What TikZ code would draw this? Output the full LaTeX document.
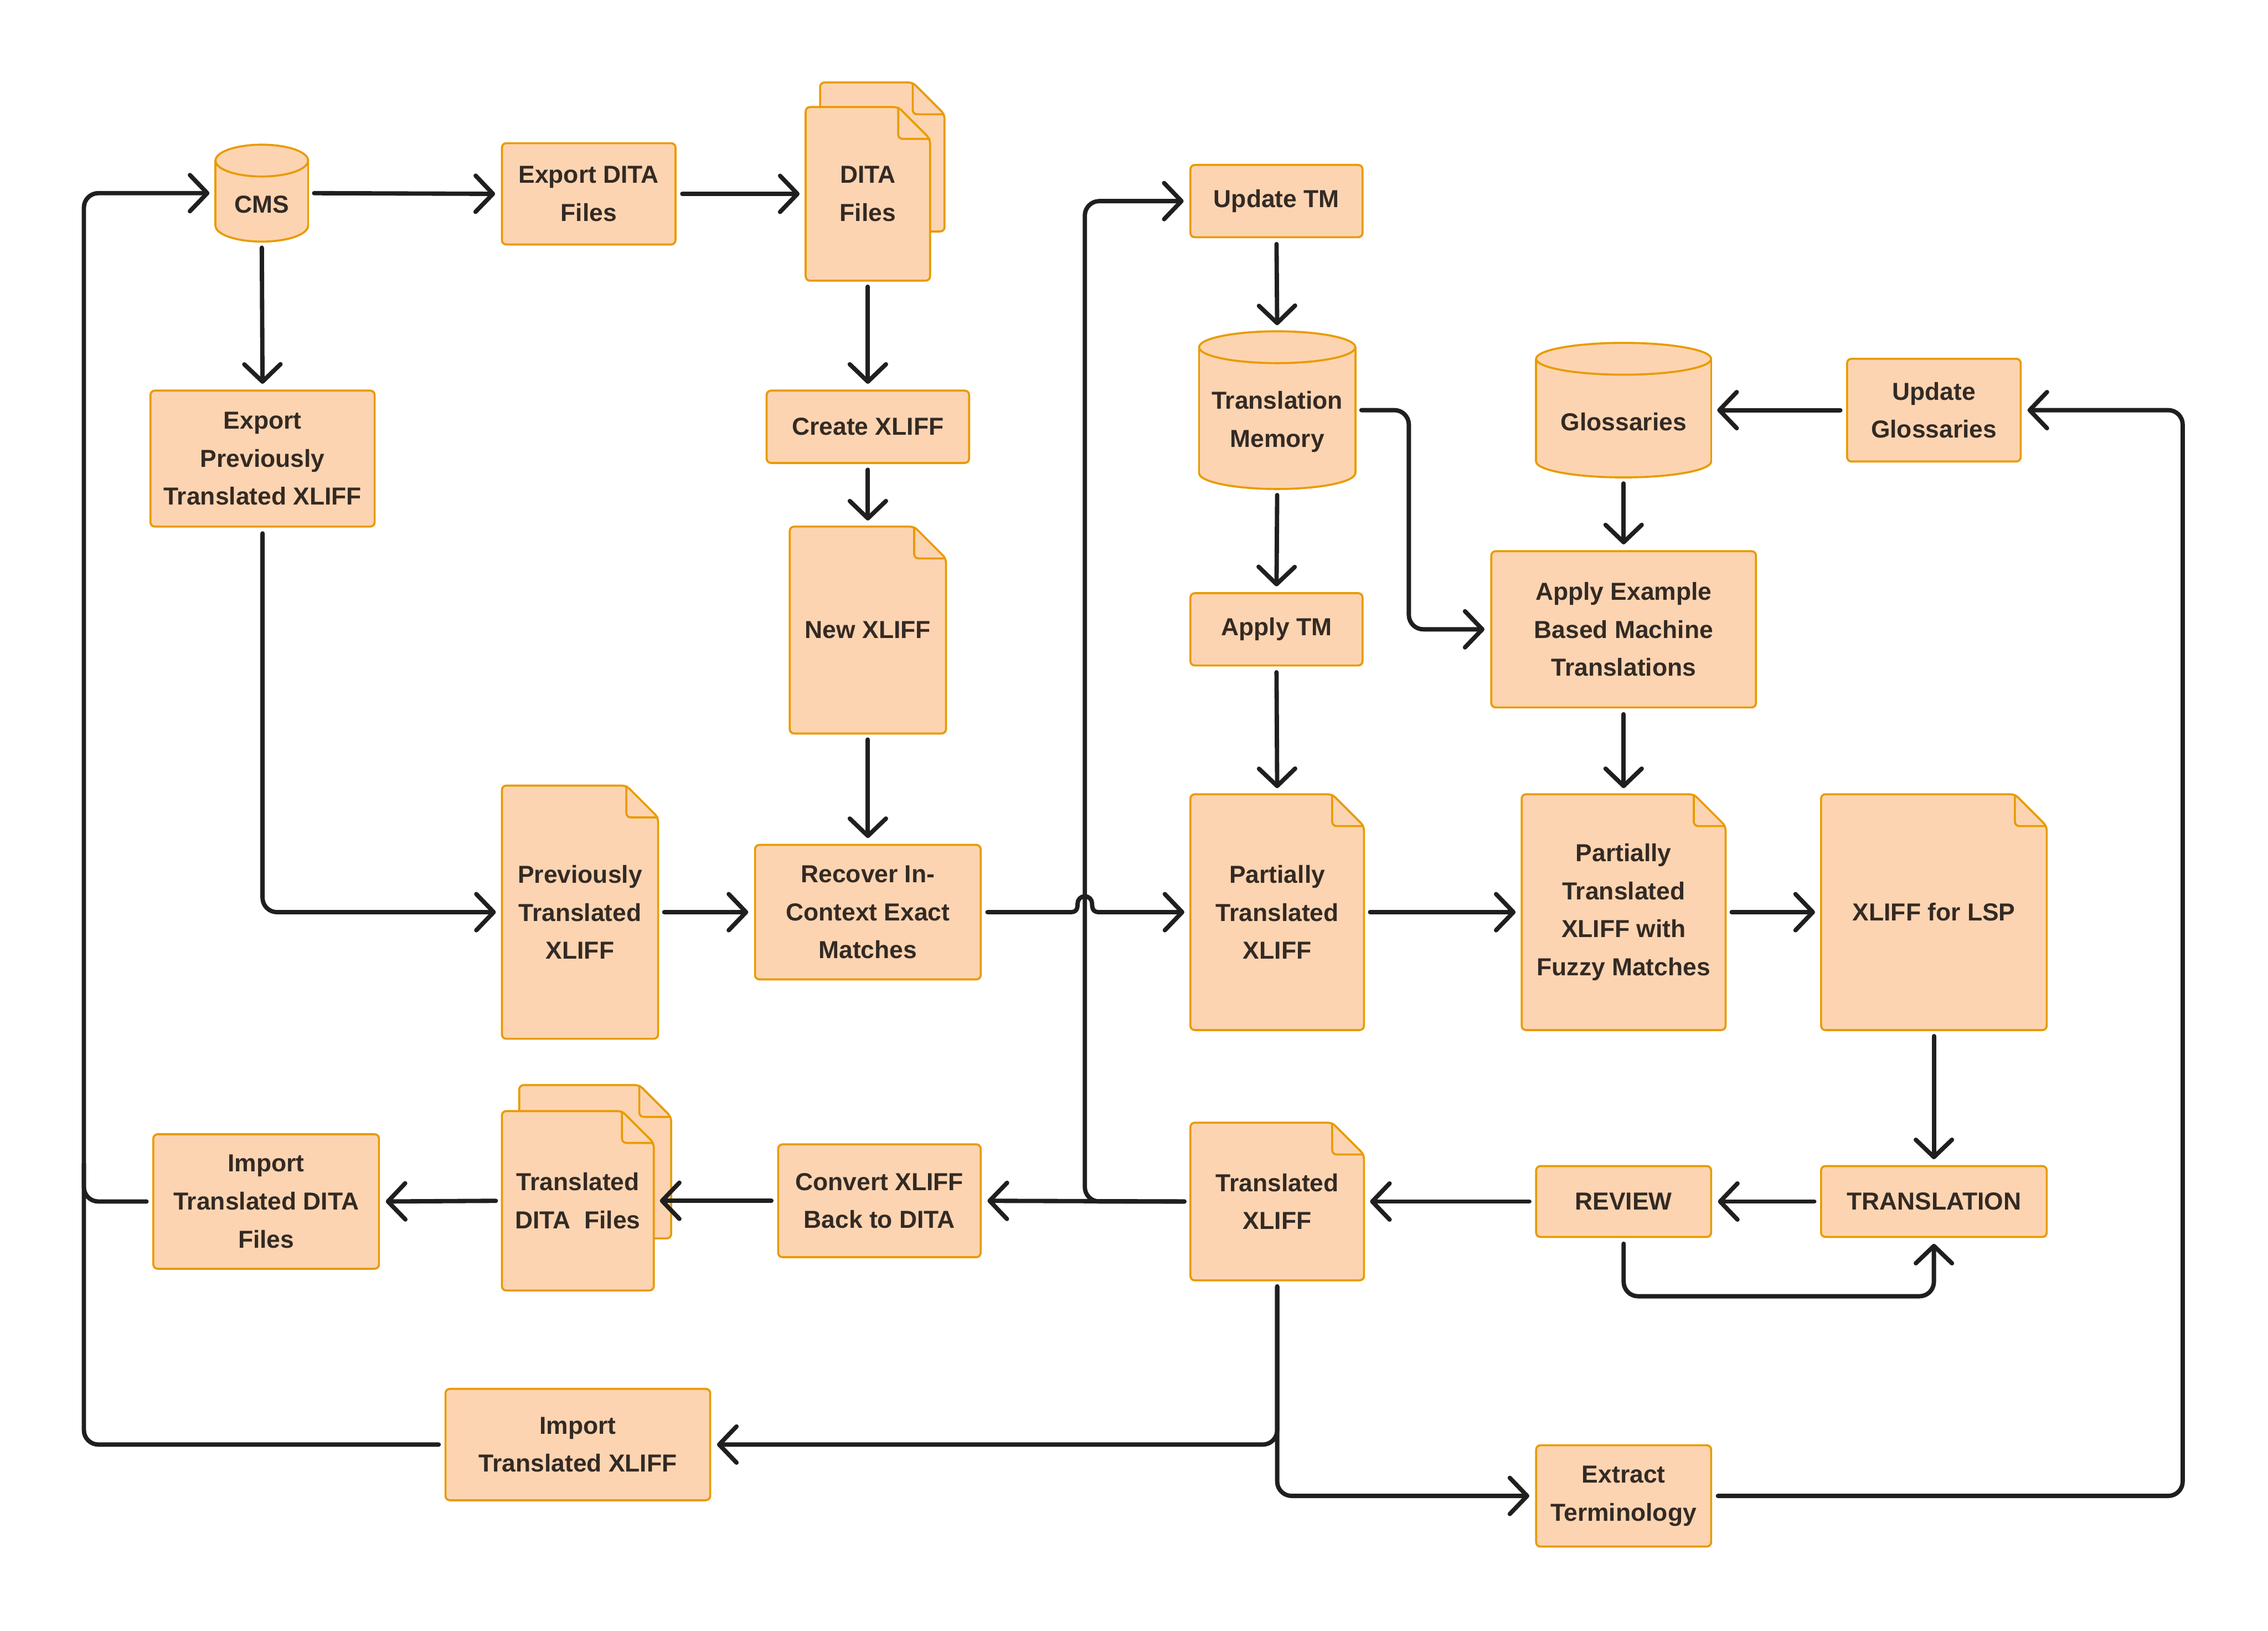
\documentclass[tikz,border=0pt]{standalone}
\usepackage{fontspec}
\setmainfont{Liberation Sans}
\usetikzlibrary{arrows.meta}
\definecolor{peach}{HTML}{FDD4B1}
\definecolor{orng}{HTML}{E89B00}
\definecolor{ink}{HTML}{332A24}
\definecolor{wirecol}{HTML}{1F1F1F}

% document outline: x1 y1 x2 y2
\newcommand\docshape[4]{%
  \draw[docst] (#1,#2) -- (#3-22,#2) -- (#3,#2+22) -- (#3,#4) -- (#1,#4) -- cycle;
  \draw[docst,fill=none] (#3-22,#2) -- (#3-22,#2+22) -- (#3,#2+22);
}
% document node: name x1 y1 x2 y2 text
\newcommand\docnode[6]{%
  \docshape{#2}{#3}{#4}{#5}
  \node[hold, minimum width={(#4-#2)*1pt}, minimum height={(#5-#3)*1pt}] (#1) at ({(#2+#4)/2},{(#3+#5)/2}) {#6};
}
% cylinder node: name x1 y1 x2 y2 text
\newcommand\cylnode[6]{%
  \draw[cylst] ({(#2+#4)/2},#5-11) ellipse [x radius={(#4-#2)/2}, y radius=11];
  \fill[peach] (#2,#3+11) rectangle (#4,#5-11);
  \draw[cylst] (#2,#3+11) -- (#2,#5-11) (#4,#3+11) -- (#4,#5-11);
  \draw[cylst] ({(#2+#4)/2},#3+11) ellipse [x radius={(#4-#2)/2}, y radius=11];
  \node[hold, minimum width={(#4-#2)*1pt}, minimum height={(#5-#3)*1pt},
        label={[yshift=-8pt]center:#6}] (#1) at ({(#2+#4)/2},{(#3+#5)/2}) {};
}

\begin{document}
\begin{tikzpicture}[x=1pt,y=-1pt,
  every node/.style={font=\fontsize{17}{26.3}\selectfont\bfseries, text=ink, align=center, inner sep=0pt},
  box/.style={draw=orng, fill=peach, line width=1.4pt, rounded corners=3pt},
  hold/.style={draw=none, fill=none},
  docst/.style={draw=orng, fill=peach, line width=1.4pt, rounded corners=3pt, line join=round},
  cylst/.style={draw=orng, fill=peach, line width=1.4pt},
  conn/.style={draw=wirecol, line width=3pt, line cap=round, line join=round, rounded corners=10pt,
    shorten >=4pt, shorten <=4pt, -{Straight Barb[length=12pt,width=25pt,round]}},
  conline/.style={conn, -}
]
\useasboundingbox (0,0) rectangle (1568,1127);

% ---------- nodes ----------
\cylnode{cms}{149}{100}{213}{167}{CMS}
\node[box, minimum width=120pt, minimum height=70pt] (expdita) at (407,134) {Export DITA\\Files};
\docshape{567}{57}{653}{160}
\docnode{ditaf}{557}{74}{643}{194}{DITA\\Files}
\node[box, minimum width=155pt, minimum height=94pt] (expprev) at (181.5,317) {Export\\Previously\\Translated XLIFF};
\node[box, minimum width=140pt, minimum height=50pt] (create) at (600,295) {Create XLIFF};
\docnode{newx}{546}{364}{654}{507}{New XLIFF}
\docnode{prevtx}{347}{543}{455}{718}{Previously\\Translated\\XLIFF}
\node[box, minimum width=156pt, minimum height=93pt] (recover) at (600,630.5) {Recover In-\\Context Exact\\Matches};
\node[box, minimum width=119pt, minimum height=50pt] (updtm) at (882.5,139) {Update TM};
\cylnode{tm}{829}{229}{937}{338}{Translation\\Memory}
\node[box, minimum width=119pt, minimum height=50pt] (applytm) at (882.5,435) {Apply TM};
\docnode{ptx}{823}{549}{943}{712}{Partially\\Translated\\XLIFF}
\cylnode{gloss}{1062}{237}{1183}{330}{Glossaries}
\node[box, minimum width=120pt, minimum height=71pt] (updgl) at (1337,283.5) {Update\\Glossaries};
\node[box, minimum width=183pt, minimum height=108pt] (applyex) at (1122.5,435) {Apply Example\\Based Machine\\Translations};
\docnode{fuzzy}{1052}{549}{1193}{712}{Partially\\Translated\\XLIFF with\\Fuzzy Matches}
\docnode{lsp}{1259}{549}{1415}{712}{XLIFF for LSP}
\node[box, minimum width=156pt, minimum height=49pt] (translation) at (1337,830.5) {TRANSLATION};
\node[box, minimum width=121pt, minimum height=49pt] (review) at (1122.5,830.5) {REVIEW};
\docnode{txliff}{823}{776}{943}{885}{Translated\\XLIFF}
\node[box, minimum width=140pt, minimum height=78pt] (convert) at (608,830) {Convert XLIFF\\Back to DITA};
\docshape{359}{750}{464}{856}
\docnode{tdita}{347}{768}{452}{892}{Translated\\DITA\ \ Files}
\node[box, minimum width=156pt, minimum height=93pt] (impdita) at (184,830.5) {Import\\Translated DITA\\Files};
\node[box, minimum width=183pt, minimum height=77pt] (impxliff) at (399.5,998.5) {Import\\Translated XLIFF};
\node[box, minimum width=121pt, minimum height=70pt] (extract) at (1122.5,1034) {Extract\\Terminology};

% ---------- helper coordinates ----------
\coordinate (lx) at (58,0);
\coordinate (bx) at (750,0);
\coordinate (mx) at (974,0);
\coordinate (rx) at (1509,0);
\coordinate (jy) at (0,896);

% ---------- connectors ----------
\draw[conn] (cms.east) -- (expdita.west);
\draw[conn] (expdita.east) -- (ditaf.west);
\draw[conn] (cms.south) -- (expprev.north);
\draw[conn] (ditaf.south) -- (create.north);
\draw[conn] (create.south) -- (newx.north);
\draw[conn] (newx.south) -- (recover.north);
\draw[conn] (expprev.south) |- (prevtx.west);
\draw[conn] (prevtx.east) -- (recover.west);
\draw[conn] (updtm.south) -- (tm.north);
\draw[conn] (tm.south) -- (applytm.north);
\draw[conn] (applytm.south) -- (ptx.north);
\draw[conn] (tm.east) -| (mx |- applyex.west) -- (applyex.west);
\draw[conn] (updgl.west) -- (gloss.east);
\draw[conn] (gloss.south) -- (applyex.north);
\draw[conn] (applyex.south) -- (fuzzy.north);
\draw[conn] (ptx.east) -- (fuzzy.west);
\draw[conn] (fuzzy.east) -- (lsp.west);
\draw[conn] (lsp.south) -- (translation.north);
\draw[conn] (translation.west) -- (review.east);
\draw[conn] (review.west) -- (txliff.east);
\draw[conn] (review.south) |- (jy -| translation.south) -- (translation.south);
\draw[conn] (txliff.west) -- (convert.east);
\draw[conn] (convert.west) -- (tdita.east);
\draw[conn] (tdita.west) -- (impdita.east);
\draw[conn] (txliff.west) -- (bx |- txliff.west) -- (bx |- updtm.west) -- (updtm.west);
\draw[conn, sharp corners] (recover.east) -- (740,630.5)
   .. controls (744,630.5) and (745,628.5) .. (745,624.5)
   arc[start angle=180, end angle=360, radius=5]
   .. controls (755,628.5) and (756,630.5) .. (760,630.5) -- (ptx.west);
\draw[conn] (txliff.south) |- (impxliff.east);
\draw[conn] (txliff.south) |- (extract.west);
\draw[conn] (extract.east) -| (rx |- updgl.east) -- (updgl.east);
\draw[conn] (impxliff.west) -| (lx |- cms.west) -- (cms.west);
\draw[conline] (impdita.west) -- (lx |- impdita.west) -- ++(0,-30);
\end{tikzpicture}
\end{document}
